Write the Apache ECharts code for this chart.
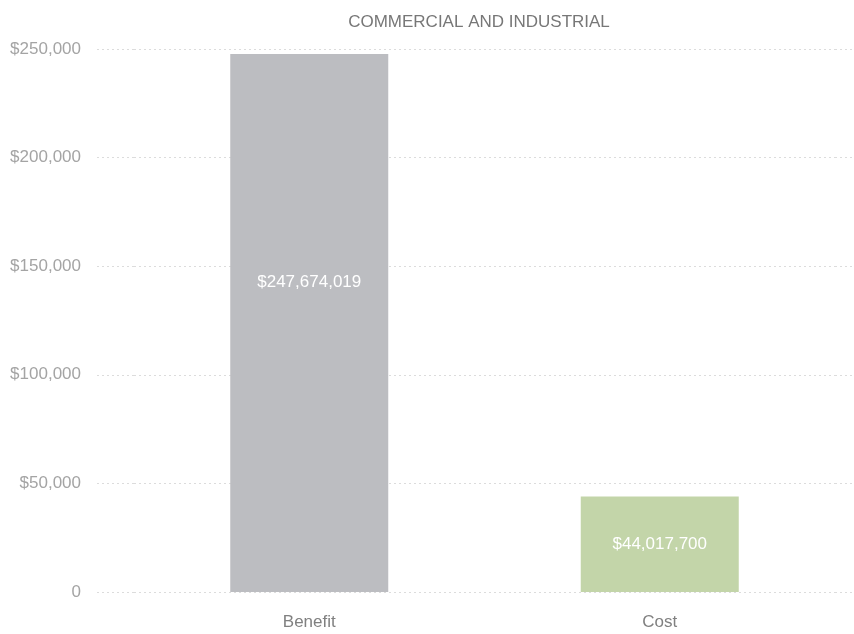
<!DOCTYPE html>
<html>
<head>
<meta charset="utf-8">
<script src="https://cdn.jsdelivr.net/npm/echarts@6/dist/echarts.min.js"></script>
<style>
    html, body { margin: 0; padding: 0; background: #fff; }
    #main { width: 854px; height: 634px; }
</style>
</head>
<body>
<div id="main"></div>
<script>
    // values in thousands of dollars
    var categories = ['Benefit', 'Cost']
    var values = [247674.019, 44017.7]
    var barColors = ['#bcbdc1', '#c3d5a9']
    var chartTitle = 'COMMERCIAL AND INDUSTRIAL'

    var font = '"Liberation Sans", Arial, sans-serif'

    function money(v) {
        return v === 0 ? '0' : '$' + v.toLocaleString('en-US')
    }

    var myChart = echarts.init(document.getElementById('main'))
    var yCommon = {
        type: 'value',
        min: 0,
        max: 250000,
        interval: 50000,
        axisLine: { show: false },
        axisTick: {
            show: true,
            lineStyle: { color: '#dcdcdc', type: [2, 3], width: 1 }
        }
    }
    myChart.setOption({
        animation: false,
        title: {
            text: chartTitle,
            left: 474,
            top: 9,
            textAlign: 'center',
            textStyle: { fontFamily: font, fontSize: 17, fontWeight: 'normal', color: '#777' }
        },
        grid: { left: 134, right: 19, top: 49, bottom: 42 },
        xAxis: {
            type: 'category',
            data: categories,
            axisLine: { show: false },
            axisTick: { show: false },
            axisLabel: { fontFamily: font, fontSize: 17, color: '#808080', margin: 22 }
        },
        yAxis: [
            Object.assign({}, yCommon, {
                axisTick: Object.assign({}, yCommon.axisTick, { length: 40 }),
                splitLine: { show: true, lineStyle: { color: '#dcdcdc', type: [2, 3] } },
                axisLabel: {
                    fontFamily: font, fontSize: 17, color: '#a4a4a4', margin: 53,
                    formatter: money
                }
            }),
            Object.assign({}, yCommon, {
                position: 'right',
                axisTick: Object.assign({}, yCommon.axisTick, { length: 17 }),
                splitLine: { show: false },
                axisLabel: { show: false }
            })
        ],
        series: [{
            type: 'bar',
            barWidth: 158,
            data: values.map(function (v, i) {
                return {
                    value: v,
                    itemStyle: { color: barColors[i] },
                    label: { offset: i === 0 ? [0, -41] : [0, 0] }
                }
            }),
            label: {
                show: true,
                position: 'inside',
                color: '#fff',
                fontFamily: font,
                fontSize: 17,
                formatter: function (p) {
                    return '$' + Math.round(p.value * 1000).toLocaleString('en-US')
                }
            }
        }]
    })
</script>
</body>
</html>
